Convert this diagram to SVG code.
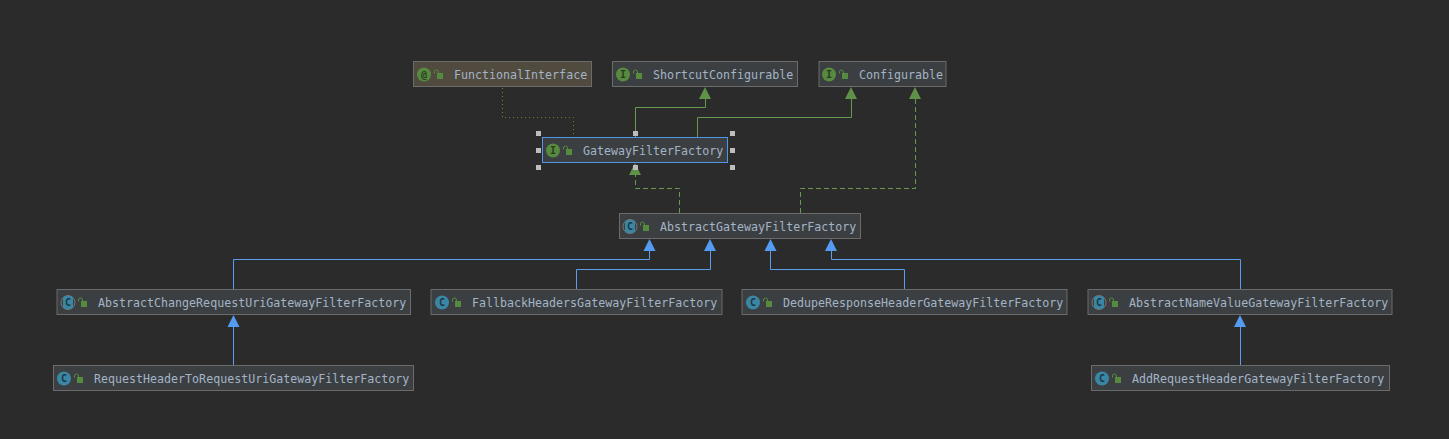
<svg xmlns="http://www.w3.org/2000/svg" width="1449" height="439" viewBox="0 0 1449 439">
<style>
.box{fill:#3c3f41;stroke:#6b6b6b;stroke-width:1}
.ann{fill:#504a3f;stroke:#6b6b6b;stroke-width:1}
.sel{fill:#3c3f41;stroke:#4f96e8;stroke-width:1}
.lbl{font-family:"DejaVu Sans Mono",monospace;font-size:11.65px;fill:#a3b4c6}
.ico{font-family:"DejaVu Sans Mono",monospace;font-size:10px;font-weight:bold;text-anchor:middle}
.g{fill:#568a3e}
.c{fill:#3a87a5}
.ring{fill:none;stroke:#777;stroke-width:1}
.lock{fill:#568a3e}
.sh{fill:none;stroke:#568a3e;stroke-width:1}
.con{fill:none;stroke-width:1}
.bl{stroke:#5a9fec}
.gr{stroke:#659a50}
.da{stroke-dasharray:5 3}
.dot{stroke:#7c7c2e;stroke-dasharray:1 3}
.hg{fill:#5f9148}
.hb{fill:#559bf2}
.h{fill:#bdbdbd}
</style>
<defs>
<g id="lk"><rect x="1" y="1" width="6" height="6" class="lock"/><path d="M-1.5 1.5V0a2 2 0 0 1 4 0V1.5" class="sh"/></g>
</defs>
<rect width="1449" height="439" fill="#2b2b2b"/>
<g id="connectors">
<path class="con dot" d="M502.5 88V117.5H573.5V137"/>
<path class="con gr" d="M635.5 137V107.5H705.5V97"/>
<path class="con gr" d="M697.5 137V117.5H851.5V97"/>
<path class="con gr da" d="M679.5 213V188.5H635.5V172"/>
<path class="con gr da" d="M800.5 213V188.5H915.5V97"/>
<path class="con bl" d="M233.5 289V259.5H649.5V249"/>
<path class="con bl" d="M576.5 289V269.5H710.5V249"/>
<path class="con bl" d="M904.5 289V269.5H770.5V249"/>
<path class="con bl" d="M1240.5 289V259.5H831.5V249"/>
<path class="con bl" d="M233.5 365V325"/>
<path class="con bl" d="M1240.5 365V325"/>
<polygon class="hg" points="705,87 711,99 699,99"/>
<polygon class="hg" points="851,87 857,99 845,99"/>
<polygon class="hg" points="915,87 921,99 909,99"/>
<polygon class="hg" points="635,163 641,175 629,175"/>
<polygon class="hb" points="649.5,239 655.5,251 643.5,251"/>
<polygon class="hb" points="710,239 716,251 704,251"/>
<polygon class="hb" points="770.5,239 776.5,251 764.5,251"/>
<polygon class="hb" points="831,239 837,251 825,251"/>
<polygon class="hb" points="233.5,315 239.5,327 227.5,327"/>
<polygon class="hb" points="1240,315 1246,327 1234,327"/>
</g>
<g id="n-functional"><rect class="ann" x="413.5" y="61.5" width="178" height="25"/><circle class="g" cx="424" cy="74.5" r="7"/><text class="ico" x="424" y="78" fill="#2b3a22">@</text><use href="#lk" x="436" y="72"/><text class="lbl" x="454" y="78.5">FunctionalInterface</text></g>
<g id="n-shortcut"><rect class="box" x="612.5" y="61.5" width="185" height="25"/><circle class="g" cx="623" cy="74.5" r="7"/><text class="ico" x="623" y="78" fill="#2b3a22">I</text><use href="#lk" x="635" y="72"/><text class="lbl" x="653" y="78.5">ShortcutConfigurable</text></g>
<g id="n-configurable"><rect class="box" x="819" y="61.5" width="127" height="25"/><circle class="g" cx="829" cy="74.5" r="7"/><text class="ico" x="829" y="78" fill="#2b3a22">I</text><use href="#lk" x="841" y="72"/><text class="lbl" x="859" y="78.5">Configurable</text></g>
<g id="n-gateway"><rect class="sel" x="542.5" y="137.5" width="185" height="25"/><circle class="g" cx="553" cy="150.5" r="7"/><text class="ico" x="553" y="154" fill="#2b3a22">I</text><use href="#lk" x="565" y="148"/><text class="lbl" x="583" y="154.5">GatewayFilterFactory</text>
<g class="h"><rect x="536" y="131" width="5" height="5"/><rect x="633" y="131" width="5" height="5"/><rect x="730" y="131" width="5" height="5"/><rect x="536" y="148" width="5" height="5"/><rect x="730" y="148" width="5" height="5"/><rect x="536" y="165" width="5" height="5"/><rect x="633" y="165" width="5" height="5"/><rect x="730" y="165" width="5" height="5"/></g></g>
<g id="n-abstract"><rect class="box" x="619.5" y="213.5" width="241" height="25"/><circle class="ring" cx="630" cy="226.5" r="7"/><rect class="c" x="625" y="220" width="10" height="13" rx="3"/><text class="ico" x="630" y="230" fill="#1f3640">C</text><use href="#lk" x="642" y="224"/><text class="lbl" x="660" y="230.5">AbstractGatewayFilterFactory</text></g>
<g id="n-change"><rect class="box" x="57" y="289.5" width="353.5" height="25"/><circle class="ring" cx="68" cy="302.5" r="7"/><rect class="c" x="63" y="296" width="10" height="13" rx="3"/><text class="ico" x="68" y="306" fill="#1f3640">C</text><use href="#lk" x="80" y="300"/><text class="lbl" x="98" y="306.5">AbstractChangeRequestUriGatewayFilterFactory</text></g>
<g id="n-fallback"><rect class="box" x="431" y="289.5" width="291" height="25"/><circle class="c" cx="442" cy="302.5" r="7"/><text class="ico" x="442" y="306" fill="#1f3640">C</text><use href="#lk" x="454" y="300"/><text class="lbl" x="472" y="306.5">FallbackHeadersGatewayFilterFactory</text></g>
<g id="n-dedupe"><rect class="box" x="742" y="289.5" width="325" height="25"/><circle class="c" cx="753" cy="302.5" r="7"/><text class="ico" x="753" y="306" fill="#1f3640">C</text><use href="#lk" x="765" y="300"/><text class="lbl" x="783" y="306.5">DedupeResponseHeaderGatewayFilterFactory</text></g>
<g id="n-namevalue"><rect class="box" x="1088" y="289.5" width="304" height="25"/><circle class="ring" cx="1099" cy="302.5" r="7"/><rect class="c" x="1094" y="296" width="10" height="13" rx="3"/><text class="ico" x="1099" y="306" fill="#1f3640">C</text><use href="#lk" x="1111" y="300"/><text class="lbl" x="1129" y="306.5">AbstractNameValueGatewayFilterFactory</text></g>
<g id="n-reqheader"><rect class="box" x="53.5" y="365.5" width="360" height="25"/><circle class="c" cx="64" cy="378.5" r="7"/><text class="ico" x="64" y="382" fill="#1f3640">C</text><use href="#lk" x="76" y="376"/><text class="lbl" x="94" y="382.5">RequestHeaderToRequestUriGatewayFilterFactory</text></g>
<g id="n-addreq"><rect class="box" x="1091.5" y="365.5" width="298" height="25"/><circle class="c" cx="1102" cy="378.5" r="7"/><text class="ico" x="1102" y="382" fill="#1f3640">C</text><use href="#lk" x="1114" y="376"/><text class="lbl" x="1132" y="382.5">AddRequestHeaderGatewayFilterFactory</text></g>
</svg>
